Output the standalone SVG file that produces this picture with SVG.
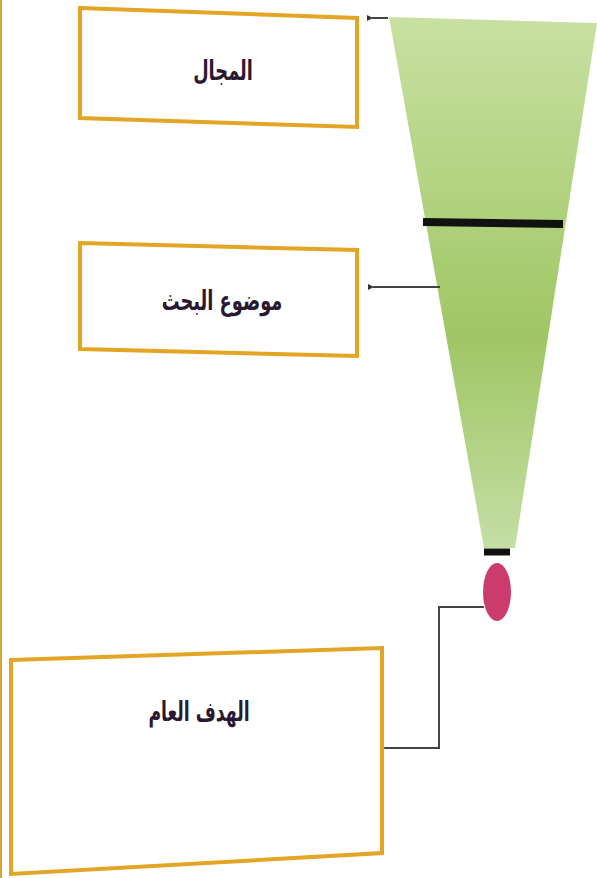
<svg xmlns="http://www.w3.org/2000/svg" width="597" height="878" viewBox="0 0 597 878">
<style>
.box{fill:#fff;stroke:#e4a526;stroke-width:4;stroke-linejoin:miter}
.lbl{font-family:"DejaVu Sans",sans-serif;font-weight:bold;font-size:27px;fill:#2a1830;text-anchor:middle}
.conn{fill:none;stroke:#444;stroke-width:2}
</style>
<defs>
<linearGradient id="g" x1="0" y1="0" x2="0" y2="1">
<stop offset="0" stop-color="#c8e0a2"/>
<stop offset="0.35" stop-color="#b0d27e"/>
<stop offset="0.6" stop-color="#9fc664"/>
<stop offset="1" stop-color="#c4dea4"/>
</linearGradient>
<marker id="ah" markerWidth="6" markerHeight="6" refX="1" refY="3" orient="auto-start-reverse" markerUnits="userSpaceOnUse">
<path d="M6,0 L0,3 L6,6 Z" fill="#333"/>
</marker>
</defs>
<rect width="597" height="878" fill="#fff"/>
<line x1="1" y1="0" x2="1" y2="878" stroke="#d9a534" stroke-width="2"/>
<g id="funnel">
<polygon points="389,17 597,23 515,548 484,548" fill="url(#g)"/>
<line x1="423" y1="222" x2="563" y2="224" stroke="#111" stroke-width="8"/>
<line x1="484" y1="552" x2="510" y2="552" stroke="#111" stroke-width="7"/>
<ellipse cx="497" cy="592" rx="14" ry="29" fill="#cc3b6e"/>
</g>
<g id="connectors">
<line class="conn" x1="388" y1="18" x2="372" y2="18" marker-end="url(#ah)"/>
<line class="conn" x1="440" y1="287" x2="373" y2="287" marker-end="url(#ah)"/>
<polyline class="conn" points="484,607 439,607 439,748 385,748" marker-end="url(#ah)"/>
</g>
<g id="n1">
<polygon class="box" points="80,8 357,18 357,127 80,118"/>
<text class="lbl" transform="translate(223,80) scale(0.66,1)">المجال</text>
</g>
<g id="n2">
<polygon class="box" points="80,243 357,250 357,356 80,349"/>
<text class="lbl" transform="translate(222,310) scale(0.66,1)">موضوع البحث</text>
</g>
<g id="n3">
<polygon class="box" points="11,660 382,648 382,853 11,874"/>
<text class="lbl" transform="translate(199,721) scale(0.64,1)">الهدف العام</text>
</g>
</svg>
